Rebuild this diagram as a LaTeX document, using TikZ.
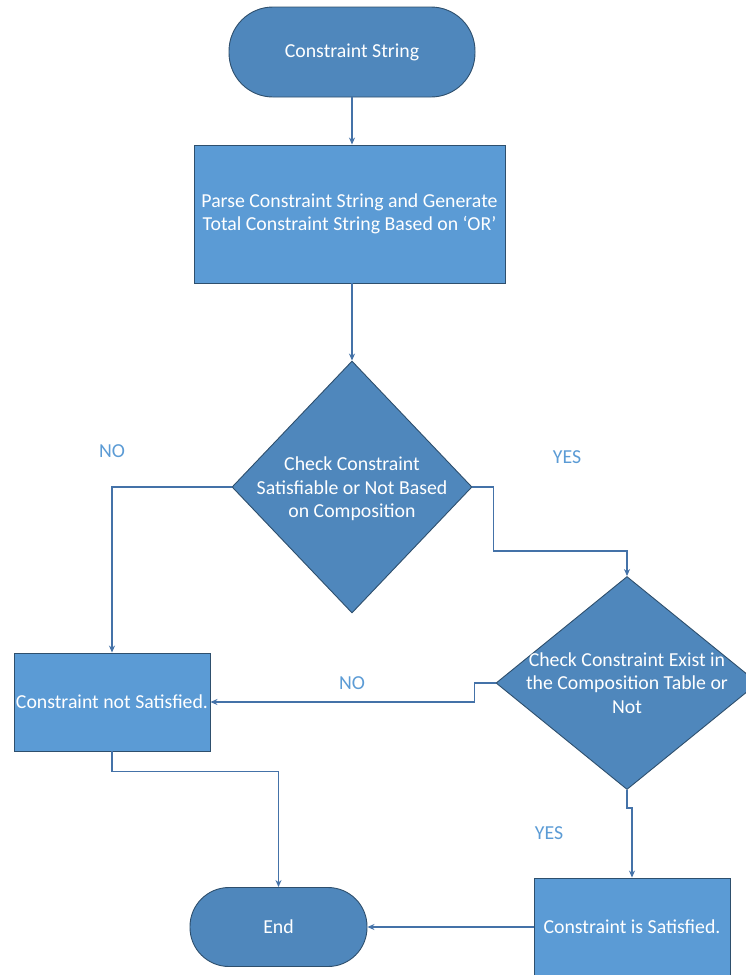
\documentclass[tikz,border=0pt]{standalone}
\usepackage{fontspec}
\setmainfont{Carlito}
\usetikzlibrary{arrows.meta,shapes.geometric}
\definecolor{termblue}{HTML}{4F87BC}
\definecolor{procblue}{HTML}{5B9BD5}
\definecolor{edgeblue}{HTML}{41719C}
\definecolor{linkblue}{HTML}{4472A8}
\definecolor{labblue}{HTML}{5B9BD5}
\tikzset{
  base/.style={draw=edgeblue!70!black, line width=0.9pt, text=white, inner sep=0pt, font=\fontsize{19.8}{23.5}\selectfont, align=center},
  terminal/.style={base, fill=termblue, rectangle, rounded corners=#1},
  procbox/.style={base, fill=procblue, rectangle},
  decision/.style={base, fill=termblue, diamond},
  dtext/.style={text=white, font=\fontsize{19.8}{23.5}\selectfont, align=center, inner sep=0pt},
  link/.style={draw=linkblue, line width=1.4pt, -{Stealth[length=7pt,width=6pt]}},
  answer/.style={text=labblue, font=\fontsize{19.8}{22}\selectfont, inner sep=0pt}
}
\begin{document}
\begin{tikzpicture}[x=1pt,y=-1pt]
\useasboundingbox (0,0) rectangle (745,975);
% nodes
\node[terminal=44pt, minimum width=246pt, minimum height=90pt] (cs) at (352,52) {Constraint String};
\node[procbox, minimum width=311pt, minimum height=138pt] (parse) at (349.5,214)
  {Parse Constraint String and Generate\\Total Constraint String Based on ‘OR’};
\node[decision, minimum width=240pt, minimum height=252pt] (d1) at (352,487) {};
\node[dtext] (d1t) at (352,489) {Check Constraint\\Satisfiable or Not Based\\on Composition};
\node[decision, minimum width=262pt, minimum height=213pt] (d2) at (627,683) {};
\node[dtext] (d2t) at (627,683) {Check Constraint Exist in\\the Composition Table or\\Not};
\node[procbox, minimum width=196pt, minimum height=98pt] (nsat) at (112,702) {Constraint not Satisfied.};
\node[procbox, minimum width=196pt, minimum height=98pt] (sat) at (632,927) {Constraint is Satisfied.};
\node[terminal=39pt, minimum width=177pt, minimum height=79pt] (end) at (278.5,927) {End};
% branch labels
\node[answer] (no1) at (112,451) {NO};
\node[answer] (yes1) at (567,457) {YES};
\node[answer] (no2) at (352,683) {NO};
\node[answer] (yes2) at (549,833) {YES};
% connectors
\draw[link] (cs.south) -- (cs.south |- parse.north);
\draw[link] (parse.south -| d1.north) -- (d1.north);
\draw[link] (d1.west) -| (nsat.north);
\draw[link] (d1.east) -- ++(21,0) -- ++(0,64) -| (d2.north);
\draw[link] (d2.west) -- ++(-21,0) |- (nsat.east);
\draw[link] (d2.south) -- ++(0,18) -| (sat.north);
\draw[link] (nsat.south) -- ++(0,20) -| (end.north);
\draw[link] (sat.west) -- (end.east);
\end{tikzpicture}
\end{document}
